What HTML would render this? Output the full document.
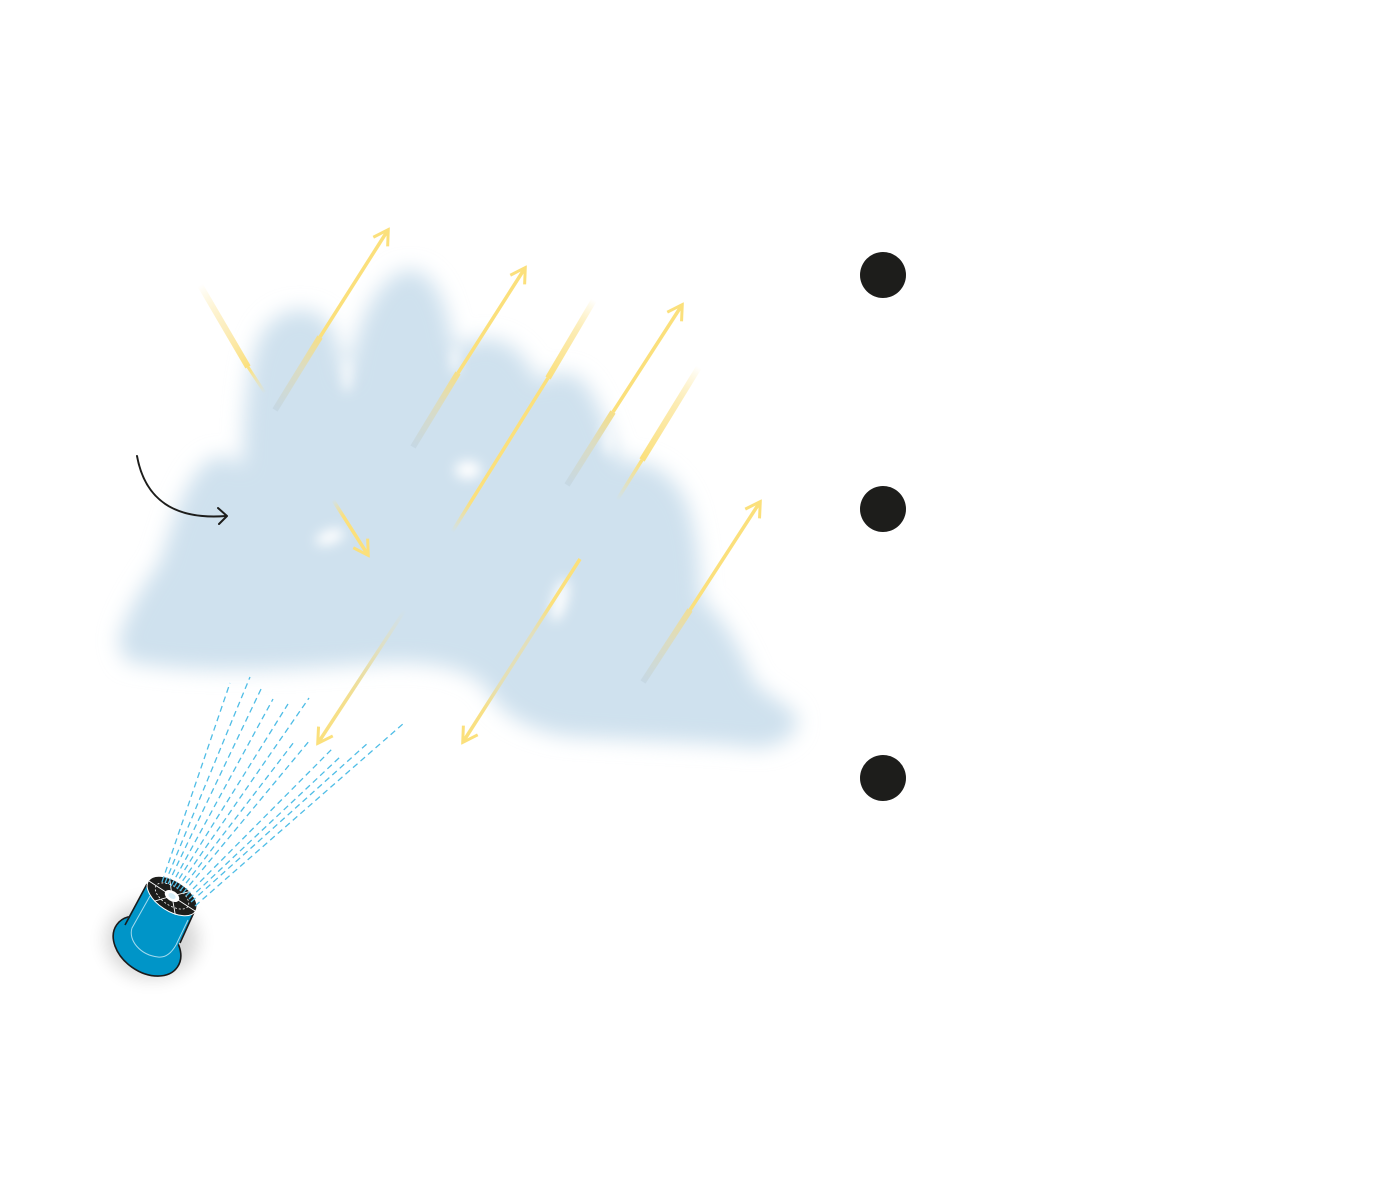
<!DOCTYPE html>
<html>
<head>
<meta charset="utf-8">
<style>
html,body{margin:0;padding:0;background:#fff;}
svg{display:block;}
</style>
</head>
<body>
<svg width="1400" height="1182" viewBox="0 0 1400 1182" xmlns="http://www.w3.org/2000/svg">
<defs>
  <filter id="blur" x="-20%" y="-20%" width="140%" height="140%">
    <feGaussianBlur stdDeviation="10.5"/>
  </filter>
  <filter id="blur2" x="-50%" y="-50%" width="200%" height="200%">
    <feGaussianBlur stdDeviation="6"/>
  </filter>
  <filter id="blur3" x="-50%" y="-50%" width="200%" height="200%">
    <feGaussianBlur stdDeviation="9"/>
  </filter>
  <marker id="ah" viewBox="0 0 20 20" markerWidth="20" markerHeight="20" refX="17" refY="10" orient="auto" markerUnits="userSpaceOnUse">
    <path d="M3,1.5 L17.5,10 L3,18.5" fill="none" stroke="#fbe07c" stroke-width="3"/>
  </marker>

  <linearGradient id="gA1" gradientUnits="userSpaceOnUse" x1="275" y1="410" x2="320" y2="337">
    <stop offset="0" stop-color="#c6d8e4"/><stop offset="0.6" stop-color="#dcdcc0"/><stop offset="1" stop-color="#f6df88"/>
  </linearGradient>
  <linearGradient id="gA3" gradientUnits="userSpaceOnUse" x1="413" y1="447" x2="458" y2="373">
    <stop offset="0" stop-color="#c6d8e4"/><stop offset="0.6" stop-color="#dcdcc0"/><stop offset="1" stop-color="#f6df88"/>
  </linearGradient>
  <linearGradient id="gA5" gradientUnits="userSpaceOnUse" x1="567" y1="485" x2="613" y2="412">
    <stop offset="0" stop-color="#c6d8e4"/><stop offset="0.6" stop-color="#dcdcc0"/><stop offset="1" stop-color="#f6df88"/>
  </linearGradient>
  <linearGradient id="gA7" gradientUnits="userSpaceOnUse" x1="643" y1="682" x2="690" y2="610">
    <stop offset="0" stop-color="#c6d8e4"/><stop offset="0.6" stop-color="#dcdcc0"/><stop offset="1" stop-color="#f0de98"/>
  </linearGradient>

  <linearGradient id="gR2" gradientUnits="userSpaceOnUse" x1="200" y1="285" x2="248" y2="367">
    <stop offset="0" stop-color="#fbe07c" stop-opacity="0"/><stop offset="0.5" stop-color="#fbe7a6" stop-opacity="0.7"/><stop offset="1" stop-color="#fbe07c"/>
  </linearGradient>
  <linearGradient id="gR2b" gradientUnits="userSpaceOnUse" x1="248" y1="367" x2="265" y2="393">
    <stop offset="0" stop-color="#fbe07c"/><stop offset="1" stop-color="#fbe07c" stop-opacity="0"/>
  </linearGradient>
  <linearGradient id="gR4" gradientUnits="userSpaceOnUse" x1="594" y1="300" x2="548" y2="378">
    <stop offset="0" stop-color="#fbe07c" stop-opacity="0"/><stop offset="0.4" stop-color="#fbe7a0" stop-opacity="0.8"/><stop offset="1" stop-color="#fbe07c"/>
  </linearGradient>
  <linearGradient id="gR4b" gradientUnits="userSpaceOnUse" x1="548" y1="378" x2="452" y2="532">
    <stop offset="0" stop-color="#fbe07c"/><stop offset="0.8" stop-color="#fbe07c"/><stop offset="1" stop-color="#fbe07c" stop-opacity="0"/>
  </linearGradient>
  <linearGradient id="gR6" gradientUnits="userSpaceOnUse" x1="699" y1="367" x2="642" y2="460">
    <stop offset="0" stop-color="#fbe07c" stop-opacity="0"/><stop offset="0.4" stop-color="#fbe7a0" stop-opacity="0.8"/><stop offset="1" stop-color="#fbe07c"/>
  </linearGradient>
  <linearGradient id="gR6b" gradientUnits="userSpaceOnUse" x1="642" y1="460" x2="617" y2="500">
    <stop offset="0" stop-color="#fbe07c"/><stop offset="1" stop-color="#fbe07c" stop-opacity="0"/>
  </linearGradient>
  <linearGradient id="gA8" gradientUnits="userSpaceOnUse" x1="580" y1="559" x2="463" y2="742">
    <stop offset="0" stop-color="#fbe07c"/><stop offset="0.25" stop-color="#fbe07c"/><stop offset="0.4" stop-color="#e2dfbc"/><stop offset="0.7" stop-color="#e4dfb4"/><stop offset="0.82" stop-color="#f7e088"/><stop offset="1" stop-color="#fbe07c"/>
  </linearGradient>
  <linearGradient id="gA9" gradientUnits="userSpaceOnUse" x1="405" y1="610" x2="318" y2="743">
    <stop offset="0" stop-color="#e0dfc4" stop-opacity="0"/><stop offset="0.3" stop-color="#e0dfc0"/><stop offset="0.65" stop-color="#f3df90"/><stop offset="1" stop-color="#fbe07c"/>
  </linearGradient>
  <linearGradient id="gA10" gradientUnits="userSpaceOnUse" x1="333" y1="500" x2="368" y2="555">
    <stop offset="0" stop-color="#fbe07c" stop-opacity="0"/><stop offset="0.3" stop-color="#fbe07c"/><stop offset="1" stop-color="#fbe07c"/>
  </linearGradient>
</defs>

<rect width="1400" height="1182" fill="#fff"/>

<!-- CLOUD -->
<g filter="url(#blur)">
  <path fill="#cfe1ee" d="
    M118,642
    C126,612 143,586 160,562
    C173,520 188,470 213,458
    C228,454 238,460 243,468
    C243,420 247,360 261,335
    C276,306 315,300 331,327
    C341,345 344,370 347,385
    C352,340 370,282 405,270
    C436,266 449,310 454,350
    C466,340 482,336 497,340
    C515,344 530,362 538,383
    C550,370 568,370 582,380
    C600,400 610,435 620,463
    C640,456 671,468 687,503
    C697,530 701,570 701,600
    C719,612 740,645 754,682
    C772,700 798,708 798,722
    C793,744 762,752 740,746
    C700,742 640,741 565,736
    C525,729 500,713 488,691
    C470,665 420,661 380,663
    C300,669 200,676 126,661
    Z"/>
</g>
<g filter="url(#blur2)" fill="#fff">
  <ellipse cx="468" cy="470" rx="13" ry="9"/>
  <ellipse cx="560" cy="600" rx="7" ry="22" transform="rotate(15 560 600)"/>
  <ellipse cx="330" cy="537" rx="15" ry="7" transform="rotate(-20 330 537)"/>
  <ellipse cx="347" cy="375" rx="4" ry="18"/>
  <ellipse cx="455" cy="360" rx="4" ry="14"/>
  <ellipse cx="608" cy="440" rx="4" ry="16"/>
</g>

<!-- YELLOW ARROWS -->
<g fill="none" stroke-linecap="butt">
  <line x1="200" y1="285" x2="248" y2="367" stroke="url(#gR2)" stroke-width="6"/>
  <line x1="248" y1="367" x2="265" y2="393" stroke="url(#gR2b)" stroke-width="3"/>

  <line x1="275" y1="410" x2="320" y2="337" stroke="url(#gA1)" stroke-width="6"/>
  <line x1="320" y1="337" x2="388" y2="230" stroke="#fbe07c" stroke-width="3.5" marker-end="url(#ah)"/>

  <line x1="413" y1="447" x2="458" y2="373" stroke="url(#gA3)" stroke-width="6"/>
  <line x1="458" y1="373" x2="525" y2="268" stroke="#fbe07c" stroke-width="3.5" marker-end="url(#ah)"/>

  <line x1="594" y1="300" x2="548" y2="378" stroke="url(#gR4)" stroke-width="6"/>
  <line x1="548" y1="378" x2="452" y2="532" stroke="url(#gR4b)" stroke-width="3.5"/>

  <line x1="567" y1="485" x2="613" y2="412" stroke="url(#gA5)" stroke-width="6"/>
  <line x1="613" y1="412" x2="682" y2="305" stroke="#fbe07c" stroke-width="3.5" marker-end="url(#ah)"/>

  <line x1="699" y1="367" x2="642" y2="460" stroke="url(#gR6)" stroke-width="6"/>
  <line x1="642" y1="460" x2="617" y2="500" stroke="url(#gR6b)" stroke-width="3.5"/>

  <line x1="643" y1="682" x2="690" y2="610" stroke="url(#gA7)" stroke-width="6"/>
  <line x1="690" y1="610" x2="760" y2="502" stroke="#fbe07c" stroke-width="3.5" marker-end="url(#ah)"/>

  <line x1="580" y1="559" x2="463" y2="742" stroke="url(#gA8)" stroke-width="3.5" marker-end="url(#ah)"/>

  <line x1="405" y1="610" x2="318" y2="743" stroke="url(#gA9)" stroke-width="3.5" marker-end="url(#ah)"/>

  <line x1="333" y1="500" x2="368" y2="555" stroke="url(#gA10)" stroke-width="3.5" marker-end="url(#ah)"/>
</g>

<!-- BLACK CURVED ARROW -->
<g fill="none" stroke="#1d1d1b" stroke-width="2" stroke-linecap="round" stroke-linejoin="round">
  <path d="M137,456 C145,500 175,520 226,516"/>
  <path d="M218,508 L227,516 L219,524"/>
</g>

<!-- NOZZLE SHADOW -->
<ellipse cx="152" cy="940" rx="46" ry="38" fill="#000" opacity="0.16" filter="url(#blur3)"/>

<!-- NOZZLE -->
<g>
  <ellipse cx="147" cy="946" rx="37" ry="26" transform="rotate(35 147 946)" fill="#0095c8" stroke="#1a1a1a" stroke-width="1.6"/>
  <polygon points="147,884 122,928 150,952 178,945 195,910" fill="#0095c8"/>
  <line x1="147" y1="884" x2="125" y2="925" stroke="#1a1a1a" stroke-width="1.6"/>
  <line x1="195" y1="910" x2="180" y2="943" stroke="#1a1a1a" stroke-width="1.6"/>
  <path d="M150,896 L132,928 C128,940 140,955 158,957 C166,958 172,952 176,945 L188,920" fill="none" stroke="#bfe6f5" stroke-width="1" opacity="0.85"/>
  <g transform="rotate(33 172 896)">
    <ellipse cx="172" cy="896" rx="28" ry="15" fill="#1d1d1b" stroke="#fff" stroke-width="1"/>
    <ellipse cx="172" cy="896" rx="19" ry="9.5" fill="none" stroke="#fff" stroke-width="0.8" stroke-dasharray="2 2"/>
    <line x1="172" y1="896" x2="144" y2="896" stroke="#fff" stroke-width="0.9"/>
    <line x1="172" y1="896" x2="200" y2="896" stroke="#fff" stroke-width="0.9"/>
    <line x1="172" y1="896" x2="160" y2="882" stroke="#fff" stroke-width="0.9"/>
    <line x1="172" y1="896" x2="185" y2="882" stroke="#fff" stroke-width="0.9"/>
    <line x1="172" y1="896" x2="160" y2="910" stroke="#fff" stroke-width="0.9"/>
    <line x1="172" y1="896" x2="185" y2="910" stroke="#fff" stroke-width="0.9"/>
    <ellipse cx="172" cy="896" rx="8" ry="5" fill="#fff"/>
    <ellipse cx="172" cy="896" rx="4" ry="2.5" fill="#d6eef8"/>
  </g>
</g>

<!-- SPRAY DASHED LINES -->
<g stroke="#4fbde6" stroke-width="1.3" stroke-dasharray="6 4" fill="none">
  <line x1="162" y1="882" x2="230" y2="683"/>
  <line x1="165" y1="883" x2="250" y2="677"/>
  <line x1="168" y1="884" x2="262" y2="687"/>
  <line x1="171" y1="886" x2="273" y2="699"/>
  <line x1="174" y1="887" x2="288" y2="704"/>
  <line x1="177" y1="889" x2="309" y2="698"/>
  <line x1="180" y1="891" x2="294" y2="742"/>
  <line x1="183" y1="893" x2="310" y2="740"/>
  <line x1="186" y1="896" x2="332" y2="749"/>
  <line x1="189" y1="899" x2="340" y2="757"/>
  <line x1="191" y1="902" x2="369" y2="742"/>
  <line x1="195" y1="906" x2="404" y2="723"/>
</g>

<!-- DOTS -->
<circle cx="883" cy="275" r="23" fill="#1d1d1b"/>
<circle cx="883" cy="509" r="23" fill="#1d1d1b"/>
<circle cx="883" cy="778" r="23" fill="#1d1d1b"/>
</svg>
</body>
</html>
